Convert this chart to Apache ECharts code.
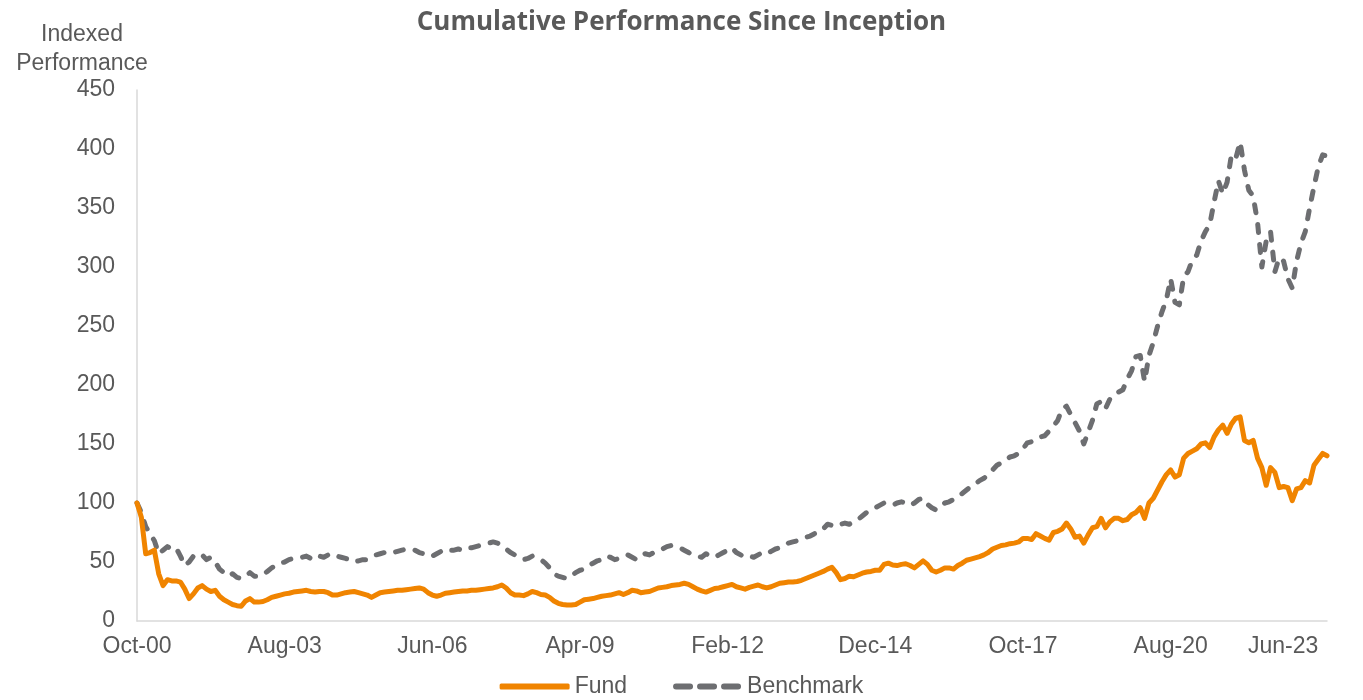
<!DOCTYPE html>
<html>
<head>
<meta charset="utf-8">
<title>Cumulative Performance Since Inception</title>
<script src="https://cdn.jsdelivr.net/npm/echarts@6/dist/echarts.min.js"></script>
<style>
  html, body { margin: 0; padding: 0; background: #fff; }
  #chart { width: 1363px; height: 700px; }
</style>
</head>
<body>
<div id="chart"></div>
<script>
// monthly points, Oct-00 .. Aug-23
const startYear = 2000;
const startMonth = 9; // October (0-based)
const monthNames = ['Jan', 'Feb', 'Mar', 'Apr', 'May', 'Jun', 'Jul', 'Aug', 'Sep', 'Oct', 'Nov', 'Dec'];

const yTicks = { min: 0, max: 450, interval: 50 };

const benchmark = [
  100, 92, 80, 74, 68, 57, 60, 63, 61, 62,
  55, 47, 50, 55, 57, 56, 52, 54, 50, 44,
  41, 38, 40, 37, 36, 38, 41, 38, 38, 39,
  42, 45, 47, 49, 50, 52, 53, 54, 54, 55,
  53, 52, 55, 54, 56, 57, 55, 54, 53, 52,
  50, 51, 52, 52, 54, 56, 57, 58, 59, 58,
  59, 60, 61, 60, 60, 58, 57, 55, 55, 57,
  59, 58, 60, 60, 61, 60, 62, 62, 63, 64,
  65, 66, 67, 66, 64, 61, 58, 56, 54, 52,
  53, 55, 54, 52, 49, 45, 40, 38, 37, 36,
  38, 41, 43, 44, 47, 49, 51, 52, 55, 54,
  52, 53, 55, 56, 54, 52, 55, 57, 56, 58,
  60, 61, 63, 64, 63, 62, 60, 58, 56, 55,
  54, 57, 55, 54, 56, 58, 60, 62, 58, 56,
  54, 55, 54, 56, 58, 57, 59, 61, 62, 64,
  66, 67, 68, 70, 71, 72, 74, 75, 78, 82,
  81, 80, 82, 83, 82, 84, 86, 89, 92, 94,
  96, 98, 100, 99, 98, 100, 101, 100, 98, 100,
  103, 104, 99, 96, 94, 97, 100, 101, 103, 106,
  108, 111, 114, 116, 119, 121, 124, 128, 132, 134,
  136, 139, 140, 142, 146, 151, 152, 153, 156, 157,
  161, 165, 170, 180, 182, 175, 168, 161, 150, 160,
  170, 184, 186, 180, 188, 192, 194, 196, 205, 212,
  224, 225, 203, 225, 236, 250, 262, 272, 290, 270,
  268, 292, 296, 306, 310, 322, 330, 336, 355, 373,
  362, 372, 395, 392, 406, 382, 365, 360, 338, 300,
  322, 330, 296, 308, 305, 290, 282, 305, 320, 330,
  350, 368, 385, 395, 394
];

const fund = [
  100, 88, 57, 58, 60, 40, 30, 35, 34, 34,
  33, 27, 19, 23, 28, 30, 27, 25, 26, 21,
  18, 16, 14, 13, 12.5, 17, 19, 16, 16, 16.5,
  18, 20, 21, 22, 23, 23.5, 24.5, 25, 25.5, 26,
  25, 24.5, 25, 25, 24, 22, 22, 23, 24, 24.5,
  25, 24, 23, 22, 20, 22, 24, 24.5, 25, 25.5,
  26, 26, 26.5, 27, 27.5, 28, 27, 24, 22, 21,
  22, 23.5, 24, 24.5, 25, 25.5, 25.5, 26, 26, 26.5,
  27, 27.5, 28, 29, 30.5, 28, 24, 22, 22, 21.5,
  23, 25, 24, 22.5, 22, 20, 17, 15, 14, 13.5,
  13.5, 14, 16, 18, 18.5, 19, 20, 21, 21.5, 22,
  23, 24, 22.5, 24, 26, 25.5, 24, 24.5, 25, 26.5,
  28, 28.5, 29, 30, 30.5, 31, 32, 31, 29, 27,
  25.5, 24.5, 26, 27.5, 28, 29, 30, 31, 29, 28,
  27, 28.5, 29.5, 30.5, 29, 28, 29, 30.5, 32, 32.5,
  33, 33, 33.5, 34.5, 36, 37.5, 39, 40.5, 42, 44,
  45.5, 41, 35, 36, 38, 37.5, 39, 40.5, 41.5, 42,
  43, 43, 48, 49, 47.5, 47, 48, 48.5, 47, 45,
  48, 51, 48, 43, 41.5, 43, 45, 45, 44, 47,
  49, 51.5, 52.5, 53.5, 54.5, 56, 58, 61, 62.5, 64,
  64.5, 65.5, 66, 67, 70, 70, 69, 74, 72, 70,
  68.5, 75, 76, 78, 83, 78, 71, 72, 66, 73,
  79, 80, 87, 79, 84, 87, 87, 85, 86, 90,
  92, 96, 87, 100, 104, 111, 118, 124, 128, 122,
  124, 138, 142, 144, 146, 150, 151, 147, 156, 162,
  166, 159, 167, 172, 173, 153, 151, 153, 138, 130,
  115, 130, 126, 113, 114, 113, 102, 112, 113, 119,
  117, 132, 137, 142, 140
];

const months = [];
for (let i = 0; i < fund.length; i++) {
  const m = (startMonth + i) % 12;
  const y = startYear + Math.floor((startMonth + i) / 12);
  months.push(monthNames[m] + '-' + String(y % 100).padStart(2, '0'));
}

const grey = '#595959';
const labelFont = 'Liberation Sans';
const dashIcon = 'path://M3,0H17A3,3,0,0,1,17,6H3A3,3,0,0,1,3,0Z' +
  'M27,0H41A3,3,0,0,1,41,6H27A3,3,0,0,1,27,0Z' +
  'M51,0H65A3,3,0,0,1,65,6H51A3,3,0,0,1,51,0Z';

const chart = echarts.init(document.getElementById('chart'));

chart.setOption({
  animation: false,
  title: [
    {
      text: 'Cumulative Performance Since Inception',
      left: 'center',
      top: 5,
      textStyle: { fontFamily: 'Open Sans', fontWeight: 'bold', fontSize: 26, color: grey }
    },
    {
      text: 'Indexed\nPerformance',
      left: 77,
      top: 15,
      textAlign: 'center',
      textStyle: { fontFamily: labelFont, fontWeight: 'normal', fontSize: 23, lineHeight: 29, color: grey }
    }
  ],
  legend: {
    bottom: -3,
    left: 'center',
    itemWidth: 70,
    itemHeight: 6,
    itemGap: 46,
    textStyle: { fontFamily: labelFont, fontSize: 23, color: grey },
    data: [
      { name: 'Fund', icon: 'roundRect' },
      { name: 'Benchmark', icon: dashIcon }
    ]
  },
  grid: { left: 137, right: 36, top: 90, bottom: 79 },
  xAxis: {
    type: 'category',
    data: months,
    boundaryGap: false,
    axisLine: { lineStyle: { color: '#D9D9D9', width: 1.5 } },
    axisTick: { show: false },
    axisLabel: {
      interval: 33,
      margin: 14,
      fontFamily: labelFont,
      fontSize: 23,
      color: grey,
      alignMaxLabel: 'right'
    },
    splitLine: { show: false }
  },
  yAxis: {
    type: 'value',
    min: yTicks.min,
    max: yTicks.max,
    interval: yTicks.interval,
    axisLine: { show: true, lineStyle: { color: '#D9D9D9', width: 1.5 } },
    axisTick: { show: false },
    axisLabel: { margin: 22, fontFamily: labelFont, fontSize: 23, color: grey },
    splitLine: { show: false }
  },
  series: [
    {
      name: 'Fund',
      type: 'line',
      data: fund,
      showSymbol: false,
      symbol: 'none',
      color: '#F08400',
      lineStyle: { width: 5, color: '#F08400', cap: 'round', join: 'round' },
      z: 3
    },
    {
      name: 'Benchmark',
      type: 'line',
      data: benchmark,
      showSymbol: false,
      symbol: 'none',
      color: '#6D6E71',
      lineStyle: { width: 5, color: '#6D6E71', type: [8, 12], cap: 'round', join: 'round' },
      z: 2
    }
  ]
});
</script>
</body>
</html>
